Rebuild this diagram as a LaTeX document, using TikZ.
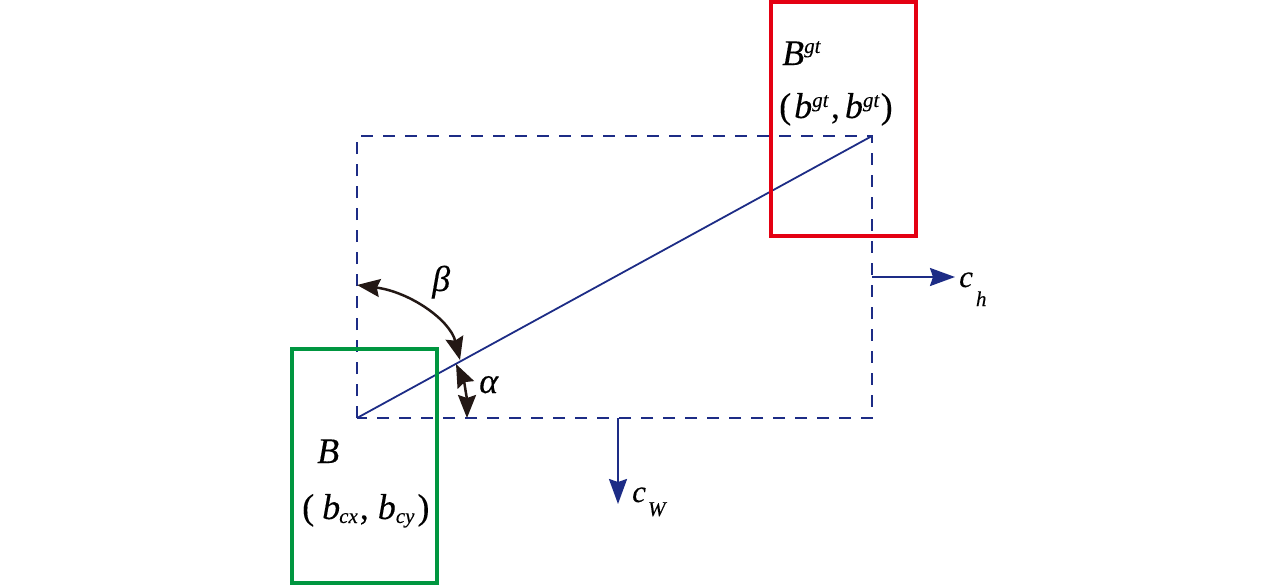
\documentclass[tikz,border=0pt]{standalone}
\usepackage{fontspec}
\setmainfont{Liberation Serif}[ItalicFeatures={FakeBold=0.2},UprightFeatures={FakeBold=0.2}]
\usetikzlibrary{arrows.meta}
\definecolor{navy}{RGB}{29,44,134}
\definecolor{gtred}{RGB}{228,0,18}
\definecolor{bgreen}{RGB}{0,150,64}
\definecolor{arcblack}{RGB}{35,24,21}
\newcommand{\sizeA}{\fontsize{36}{40}\selectfont}
\newcommand{\sizeC}{\fontsize{31}{34}\selectfont}
\newcommand{\sizeS}{\fontsize{21}{24}\selectfont}
\newcommand{\supx}[2]{\raisebox{#1}{\sizeS\textit{#2}}}
\begin{document}
\begin{tikzpicture}[x=1pt,y=-1pt,
  boxline/.style={line width=4pt},
  dashbox/.style={navy,line width=2.8pt,dash pattern=on 12pt off 10pt},
  diag/.style={navy,line width=1.8pt},
  growarrow/.style={navy,line width=2.3pt,-{Stealth[length=25pt,width=18pt,inset=3pt]}},
  anglearc/.style={arcblack,line width=2.5pt,{Stealth[length=23pt,width=18pt,inset=3pt]}-{Stealth[length=23pt,width=18pt,inset=3pt]}},
  lbl/.style={inner sep=0pt,anchor=base west,font=\sizeA}]
\useasboundingbox (0,0) rectangle (1276,587);
% key points
\coordinate (O) at (357,418);
\coordinate (P) at (872,136);
% dashed enclosing box and centre line
\draw[dashbox] (O) rectangle (P);
\draw[diag] (O) -- (P);
% ground truth and predicted boxes
\draw[boxline,gtred] (771,2) rectangle (916,236);
\draw[boxline,bgreen] (291.5,349) rectangle (436.5,583);
% growth arrows
\coordinate (chS) at (872,277);
\coordinate (chE) at (955,277);
\draw[growarrow] (chS) -- (chE);
\coordinate (cwS) at (618,418);
\coordinate (cwE) at (618,504);
\draw[growarrow] (cwS) -- (cwE);
% angle arcs
\coordinate (b1) at (357,285);
\coordinate (b2) at (460,360);
\draw[anglearc] (b1) .. controls (410,292) and (450,320) .. (b2);
\coordinate (a1) at (456,364);
\coordinate (a2) at (467,418);
\draw[anglearc] (a1) .. controls (464,381) and (467,400) .. (a2);
% labels
\node[lbl] (Bgt) at (782,65) {\textit{B}\supx{12pt}{gt}};
\node[lbl] (bgt) at (779,118) {(\hspace{3pt}\textit{b}\supx{11pt}{gt}\hspace{2pt},\hspace{5pt}\textit{b}\supx{11pt}{gt}\hspace{1pt})};
\node[lbl] (B) at (317,463) {\textit{B}};
\node[lbl] (bc) at (302,519) {(\hspace{8pt}\textit{b}\hspace{-1pt}\supx{-4pt}{cx}\hspace{2pt},\hspace{9pt}\textit{b}\supx{-4pt}{cy}\hspace{3pt})};
\node[lbl] (beta) at (432,291) {\textit{β}};
\node[lbl] (alpha) at (479,393) {\textit{α}};
\node[lbl,font=\sizeC] (ch) at (959,287) {\textit{c}\hspace{3pt}\supx{-19pt}{h}};
\node[lbl,font=\sizeC] (cw) at (632,502) {\textit{c}\hspace{2pt}\supx{-14pt}{W}};
\end{tikzpicture}
\end{document}
